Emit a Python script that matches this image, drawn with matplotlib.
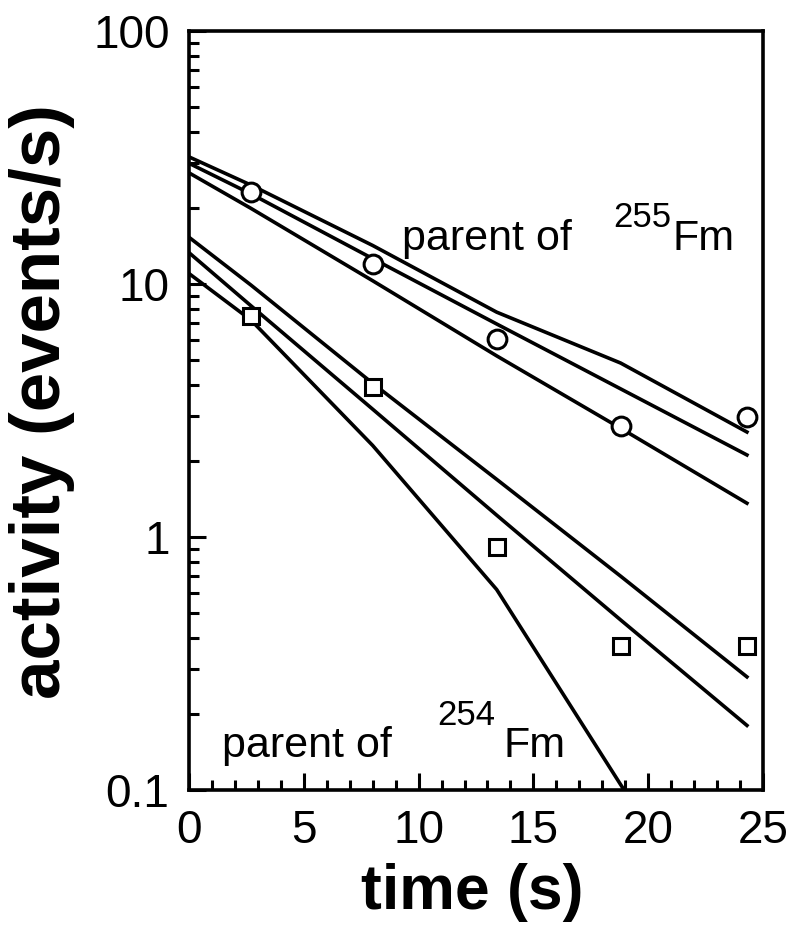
import matplotlib
matplotlib.use("Agg")
import matplotlib.pyplot as plt
import numpy as np
from matplotlib.ticker import LogLocator, FixedLocator, NullFormatter, FixedFormatter

plt.rcParams['font.family'] = ['Liberation Sans', 'DejaVu Sans']

# data: measured points (time s, activity events/s)
t_pts = [2.7, 8.0, 13.4, 18.8, 24.3]
circ_vals = [23.1, 12.0, 6.07, 2.75, 2.98]     # parent of 255Fm
sq_vals = [7.48, 3.92, 0.91, 0.37, 0.37]       # parent of 254Fm

# fitted curves evaluated at these times
t_fit = [0.0, 2.7, 8.0, 13.4, 18.8, 24.3]
fit255_a = [31.8, 24.6, 14.2, 7.74, 4.87, 2.60]
fit255_b = [30.0, 22.7, 12.6, 6.95, 3.85, 2.11]
fit255_c = [27.5, 19.9, 10.3, 5.20, 2.69, 1.36]
fit254_a = [15.3, 9.9, 4.05, 1.69, 0.70, 0.28]
fit254_b = [13.3, 8.2, 3.20, 1.22, 0.47, 0.18]
fit254_c = [11.0, 7.2, 2.30, 0.62, 0.105, 0.018]

x_ticks = [0, 5, 10, 15, 20, 25]
y_ticks = [0.1, 1, 10, 100]
y_ticklabels = ['0.1', '1', '10', '100']

W, H = 793, 936
fig = plt.figure(figsize=(W / 100, H / 100), dpi=100)
ax = fig.add_axes([189 / W, 1 - 790 / H, (763 - 189) / W, (790 - 31) / H])

lw = 2.6
for vals in [fit255_a, fit255_b, fit255_c, fit254_a, fit254_b, fit254_c]:
    ax.plot(t_fit, vals, color='black', lw=lw, solid_joinstyle='miter', zorder=2)

ax.plot(t_pts, circ_vals, linestyle='none', marker='o', markersize=13.5,
        markerfacecolor='white', markeredgecolor='black', markeredgewidth=2.2, zorder=3)
ax.plot(t_pts, sq_vals, linestyle='none', marker='s', markersize=12,
        markerfacecolor='white', markeredgecolor='black', markeredgewidth=2.2, zorder=3)

ax.set_yscale('log')
ax.set_xlim(0, 25)
ax.set_ylim(0.1, 100)

ax.xaxis.set_major_locator(FixedLocator(x_ticks))
ax.xaxis.set_minor_locator(FixedLocator(np.arange(0, 26, 1)))
ax.set_xticklabels([str(v) for v in x_ticks])
ax.yaxis.set_major_locator(FixedLocator(y_ticks))
ax.yaxis.set_major_formatter(FixedFormatter(y_ticklabels))
ax.yaxis.set_minor_locator(LogLocator(base=10, subs=np.arange(2, 10)))
ax.yaxis.set_minor_formatter(NullFormatter())

ax.tick_params(which='both', direction='in', top=False, right=False, width=2.2)
ax.tick_params(which='major', length=12, labelsize=33)
ax.tick_params(which='minor', length=7)
ax.tick_params(axis='y', which='major', pad=14)
ax.tick_params(axis='x', which='major', pad=14)
for s in ax.spines.values():
    s.set_linewidth(2.6)

# annotations
fs = 31
fs_sup = 25
ax.text(9.28, 13.6, 'parent of', fontsize=fs, ha='left', va='baseline')
ax.text(18.47, 16.8, '255', fontsize=fs_sup, ha='left', va='baseline')
ax.text(21.04, 13.6, 'Fm', fontsize=fs, ha='left', va='baseline')
ax.text(1.44, 0.135, 'parent of', fontsize=fs, ha='left', va='baseline')
ax.text(10.8, 0.181, '254', fontsize=fs_sup, ha='left', va='baseline')
ax.text(13.68, 0.135, 'Fm', fontsize=fs, ha='left', va='baseline')

fig.text(42 / W, 1 - 402 / H, 'activity (events/s)', rotation=90, fontsize=51,
         fontweight='bold', ha='center', va='center')
fig.text(472 / W, 1 - 893 / H, 'time (s)', fontsize=45,
         fontweight='bold', ha='center', va='center')

fig.savefig('out.png', dpi=100, facecolor='white')
